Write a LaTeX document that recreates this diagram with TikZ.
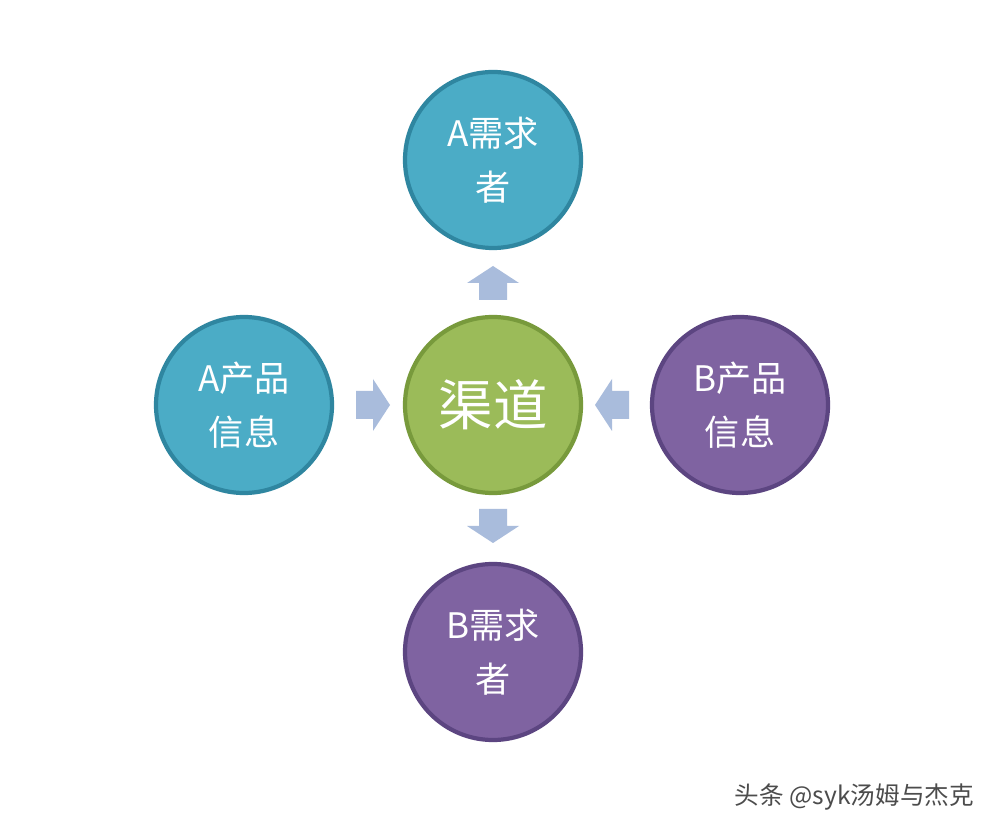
\documentclass[tikz,border=0pt]{standalone}
\usepackage{fontspec}
\setmainfont{Noto Sans CJK SC}
\definecolor{tealF}{HTML}{4BACC6}\definecolor{tealD}{HTML}{2F86A0}
\definecolor{purF}{HTML}{7F63A1}\definecolor{purD}{HTML}{5C4581}
\definecolor{grnF}{HTML}{9BBB59}\definecolor{grnD}{HTML}{789A3C}
\definecolor{arr}{HTML}{A9BCDC}
\begin{document}
\begin{tikzpicture}[x=0.02cm,y=-0.02cm,
 ball/.style={circle,minimum size=176*0.02cm,line width=2.4pt,text=white,font=\fontsize{20}{31}\selectfont,align=center,inner sep=0pt},
 blk/.style={fill=arr,draw=none}]
\useasboundingbox (0,0) rectangle (1000,830);
\fill[white] (0,0) rectangle (1000,830);
\node[ball,fill=tealF,draw=tealD] (a) at (493,160) {A需求\\者};
\node[ball,fill=tealF,draw=tealD] (p) at (244,405) {A产品\\信息};
\node[ball,fill=grnF,draw=grnD,font=\fontsize{31}{34}\selectfont] (c) at (493,405) {渠道};
\node[ball,fill=purF,draw=purD] (q) at (740,405) {B产品\\信息};
\node[ball,fill=purF,draw=purD] (b) at (493,652) {B需求\\者};
% arrow shape pointing up, centred on origin
\foreach \px/\py/\ang in {493/283/0, 373/405/-90, 612/405/90, 493/526/180}{
  \fill[blk,shift={(\px,\py)},rotate=\ang] (0,-17) -- (26,0) -- (14,0) -- (14,17) -- (-14,17) -- (-14,0) -- (-26,0) -- cycle;
}
\node[text=gray!60!black,font=\fontsize{14}{16}\selectfont,anchor=east] (w) at (980,797) {头条 @syk汤姆与杰克};
\end{tikzpicture}
\end{document}
